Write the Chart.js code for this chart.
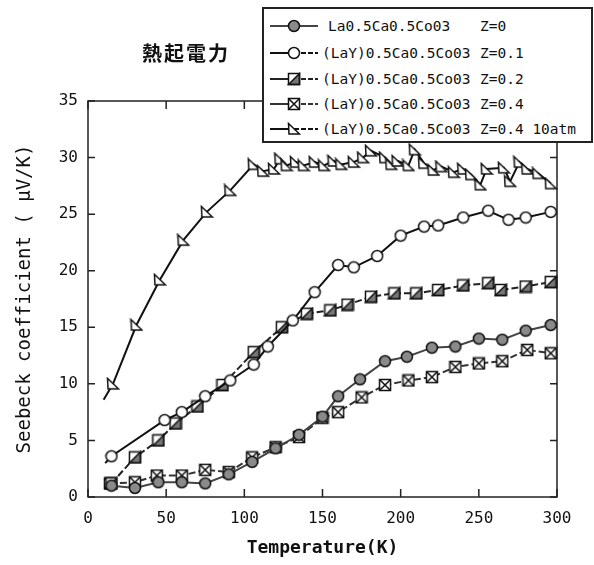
<!DOCTYPE html>
<html>
<head>
<meta charset="utf-8">
<script src="https://cdn.jsdelivr.net/npm/chart.js@4.4.1/dist/chart.umd.min.js"></script>
<style>
  body { margin: 0; background: #fff; }
  #wrap { position: relative; width: 594px; height: 565px; }
  #title { position: absolute; left: 142px; top: 38px; font: bold 20px "Noto Sans CJK JP"; letter-spacing: 2px; color: #111; }
  #legend { position: absolute; left: 262px; top: 7px; width: 327px; height: 132px; border: 2px solid #222; background: #fff; }
  .row { position: absolute; left: 0; width: 100%; height: 20px; }
  .row canvas { position: absolute; left: 4px; top: 0; }
  .row span { position: absolute; top: 0; font: 14.5px "DejaVu Sans Mono"; line-height: 20px; white-space: pre; color: #111; }
</style>
</head>
<body>
<div id="wrap">
  <canvas id="seebeck" width="594" height="565"></canvas>
  <div id="title">熱起電力</div>
  <div id="legend"></div>
</div>
<script>
// Seebeck coefficient vs temperature
const tempZ0 = [15, 30, 45, 60, 75, 90, 105, 120, 135, 150, 160, 174, 190, 204, 220, 235, 250, 265, 280, 296];
const seebeckZ0 = [1.0, 0.8, 1.3, 1.3, 1.2, 2.0, 3.1, 4.3, 5.5, 7.1, 8.9, 10.4, 12.0, 12.4, 13.2, 13.3, 14.0, 13.9, 14.7, 15.2];

const tempZ01 = [11, 15, 49, 60, 75, 91, 106, 115, 131, 145, 160, 170, 185, 200, 215, 224, 240, 256, 269, 280, 296];
const seebeckZ01 = [3.0, 3.6, 6.8, 7.5, 8.9, 10.3, 11.7, 13.3, 15.6, 18.1, 20.5, 20.3, 21.3, 23.1, 23.9, 24.0, 24.7, 25.3, 24.5, 24.7, 25.2];

const tempZ02 = [15, 30, 45, 56, 70, 86, 106, 124, 140, 155, 166, 181, 196, 210, 224, 240, 256, 264, 280, 296];
const seebeckZ02 = [1.2, 3.5, 5.0, 6.5, 8.0, 9.9, 12.8, 15.0, 16.2, 16.5, 17.0, 17.7, 18.0, 18.0, 18.3, 18.7, 18.9, 18.3, 18.6, 19.0];

const tempZ04 = [14, 30, 44, 60, 75, 90, 105, 120, 135, 150, 160, 175, 190, 205, 220, 235, 250, 265, 281, 296];
const seebeckZ04 = [1.2, 1.3, 1.9, 1.9, 2.4, 2.2, 3.5, 4.4, 5.3, 7.0, 7.5, 8.8, 9.9, 10.3, 10.6, 11.5, 11.8, 12.0, 13.0, 12.7];

const tempZ04atm = [10, 16, 31, 46, 61, 76, 91, 106, 112, 119, 123, 127, 133, 138, 145, 151, 157, 162, 170, 176, 181, 190, 194, 198, 205, 209, 215, 221, 226, 234, 240, 245, 251, 255, 266, 270, 276, 281, 288, 296];
const seebeckZ04atm = [8.6, 10.0, 15.2, 19.2, 22.7, 25.2, 27.1, 29.4, 28.8, 29.0, 29.9, 29.3, 29.6, 29.3, 29.6, 29.3, 29.7, 29.4, 29.6, 30.0, 30.6, 30.0, 29.4, 29.7, 29.3, 30.7, 29.5, 28.9, 29.2, 28.7, 29.0, 28.5, 27.6, 29.0, 29.1, 27.9, 29.6, 29.0, 28.6, 27.7];

const seriesNames = ["La0.5Ca0.5Co03", "(LaY)0.5Ca0.5Co03", "(LaY)0.5Ca0.5Co03", "(LaY)0.5Ca0.5Co03", "(LaY)0.5Ca0.5Co03"];
const seriesZ = ["Z=0", "Z=0.1", "Z=0.2", "Z=0.4", "Z=0.4 10atm"];

const xTicks = [0, 50, 100, 150, 200, 250, 300];
const yTicks = [0, 5, 10, 15, 20, 25, 30, 35];

// marker images
function makeMarker(draw) {
    const c = document.createElement("canvas");
    c.width = 14; c.height = 14;
    const g = c.getContext("2d");
    g.lineWidth = 1.5;
    g.strokeStyle = "#111";
    draw(g);
    return c;
}
const grayCircle = makeMarker(g => {
    g.beginPath(); g.arc(7, 7, 5.5, 0, Math.PI * 2);
    g.fillStyle = "#8a8a8a"; g.fill(); g.stroke();
});
const openCircle = makeMarker(g => {
    g.beginPath(); g.arc(7, 7, 5.5, 0, Math.PI * 2);
    g.fillStyle = "#fff"; g.fill(); g.stroke();
});
const shadedSquare = makeMarker(g => {
    g.fillStyle = "#fff"; g.fillRect(1.5, 1.5, 11, 11);
    g.beginPath(); g.moveTo(12.5, 1.5); g.lineTo(12.5, 12.5); g.lineTo(1.5, 12.5); g.closePath();
    g.fillStyle = "#777"; g.fill(); g.stroke();
    g.strokeRect(1.5, 1.5, 11, 11);
});
const crossSquare = makeMarker(g => {
    g.fillStyle = "#fff"; g.fillRect(1.5, 1.5, 11, 11);
    g.strokeRect(1.5, 1.5, 11, 11);
    g.beginPath(); g.moveTo(1.5, 1.5); g.lineTo(12.5, 12.5); g.moveTo(12.5, 1.5); g.lineTo(1.5, 12.5); g.stroke();
});
const rightTriangle = makeMarker(g => {
    g.beginPath(); g.moveTo(1.5, 1.5); g.lineTo(12.5, 12); g.lineTo(2, 12); g.closePath();
    g.fillStyle = "#fff"; g.fill(); g.stroke();
});

const markers = [grayCircle, openCircle, shadedSquare, crossSquare, rightTriangle];
const lineColors = ["#444", "#111", "#222", "#333", "#111"];
const lineDashes = [[], [], [7, 3], [7, 3], []];
// some curves begin with a bare line stub before the first marker
const bareFirstPoint = [false, true, false, false, true];
const temps = [tempZ0, tempZ01, tempZ02, tempZ04, tempZ04atm];
const values = [seebeckZ0, seebeckZ01, seebeckZ02, seebeckZ04, seebeckZ04atm];

const datasets = seriesNames.map((name, i) => ({
    label: name + " " + seriesZ[i],
    data: temps[i].map((t, k) => ({ x: t, y: values[i][k] })),
    borderColor: lineColors[i],
    borderWidth: 2,
    borderDash: lineDashes[i],
    pointStyle: markers[i],
    pointRadius: c => (bareFirstPoint[i] && c.dataIndex === 0 ? 0 : 6),
    tension: 0,
    clip: 6,
}));

// legend box (HTML, over the plot like the original)
const legend = document.getElementById("legend");
const rowTops = [7, 34, 60, 85, 110];
seriesNames.forEach((name, i) => {
    const row = document.createElement("div");
    row.className = "row";
    row.style.top = rowTops[i] + "px";
    const c = document.createElement("canvas");
    c.width = 52; c.height = 20;
    const g = c.getContext("2d");
    g.strokeStyle = lineColors[i]; g.lineWidth = 2;
    g.beginPath(); g.moveTo(2, 10); g.lineTo(26, 10); g.stroke();
    g.setLineDash(i === 0 ? [] : [5, 2]);
    g.beginPath(); g.moveTo(26, 10); g.lineTo(50, 10); g.stroke();
    g.drawImage(markers[i], 19, 3);
    row.appendChild(c);
    const n = document.createElement("span");
    n.textContent = name;
    n.style.left = (i === 0 ? 64 : 58) + "px";
    row.appendChild(n);
    const z = document.createElement("span");
    z.textContent = seriesZ[i];
    z.style.left = "216px";
    row.appendChild(z);
    legend.appendChild(row);
});

// plot frame and inward tick marks
const framePlugin = {
    id: "frame",
    beforeDatasetsDraw(chart) {
        const { ctx, chartArea: a, scales: { x, y } } = chart;
        ctx.save();
        ctx.strokeStyle = "#222";
        ctx.lineWidth = 1.5;
        ctx.strokeRect(a.left, a.top, a.right - a.left, a.bottom - a.top);
        ctx.beginPath();
        x.ticks.forEach(t => {
            const p = x.getPixelForValue(t.value);
            ctx.moveTo(p, a.bottom); ctx.lineTo(p, a.bottom - 8);
            ctx.moveTo(p, a.top); ctx.lineTo(p, a.top + 8);
        });
        y.ticks.forEach(t => {
            const p = y.getPixelForValue(t.value);
            ctx.moveTo(a.left, p); ctx.lineTo(a.left + 7, p);
            ctx.moveTo(a.right, p); ctx.lineTo(a.right - 7, p);
        });
        ctx.stroke();
        ctx.restore();
    },
};

const tickFont = { family: "DejaVu Sans Mono", size: 16 };

new Chart(document.getElementById("seebeck"), {
    type: "line",
    data: { datasets },
    options: {
        responsive: false,
        animation: false,
        layout: { padding: { top: 101, right: 37, bottom: 0, left: 0 } },
        plugins: { legend: { display: false }, tooltip: { enabled: false } },
        scales: {
            x: {
                type: "linear",
                min: 0,
                max: 300,
                afterBuildTicks: s => { s.ticks = xTicks.map(v => ({ value: v })); },
                afterFit: s => { s.height = 68; },
                ticks: { color: "#111", font: tickFont, padding: 12, maxRotation: 0 },
                grid: { display: false, drawTicks: false },
                border: { display: false },
                title: {
                    display: true,
                    text: "Temperature(K)",
                    color: "#111",
                    font: { family: "DejaVu Sans Mono", size: 18, weight: "bold" },
                    padding: { top: 0, bottom: 6 },
                },
            },
            y: {
                min: 0,
                max: 35,
                afterBuildTicks: s => { s.ticks = yTicks.map(v => ({ value: v })); },
                afterFit: s => { s.width = 88; },
                ticks: { color: "#111", font: tickFont, padding: 10 },
                grid: { display: false, drawTicks: false },
                border: { display: false },
                title: {
                    display: true,
                    text: "Seebeck coefficient ( μV/K)",
                    color: "#111",
                    font: { family: "DejaVu Sans Mono", size: 19 },
                    padding: { top: 14, bottom: 0 },
                },
            },
        },
    },
    plugins: [framePlugin],
});
</script>
</body>
</html>
